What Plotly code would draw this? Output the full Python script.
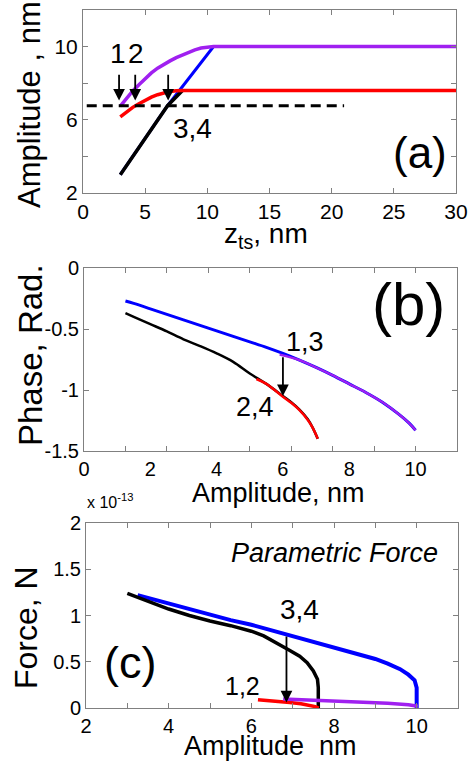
import plotly.graph_objects as go

W, H = 468, 762
FONT = "Liberation Sans"
PURPLE = "#A020F0"
RED = "#FF0000"
BLUE = "#0000FF"
BLACK = "#000000"
AXC = "#808080"

# ---------------- Panel (a): Amplitude vs z_ts ----------------
a_purple_x = [3, 3.5, 4, 4.5, 5, 5.5, 6, 6.5, 7, 7.5, 8, 8.5, 9, 9.5, 10, 10.5, 30]
a_purple_y = [6.75, 7.2, 7.58, 7.92, 8.25, 8.56, 8.82, 9.04, 9.22, 9.4, 9.55, 9.7, 9.82, 9.92, 9.98, 10, 10]
a_red_x = [3, 3.5, 4, 4.5, 5, 5.5, 6, 6.5, 7, 7.5, 8, 30]
a_red_y = [6.16, 6.45, 6.68, 6.88, 7.07, 7.24, 7.37, 7.48, 7.55, 7.59, 7.6, 7.6]
a_blue_x = [3, 6.8, 10.5, 30]
a_blue_y = [3, 6.77, 10, 10]
a_black_x = [3, 6.8, 8.0]
a_black_y = [3, 6.77, 7.6]
a_dash_x = [0.3, 21]
a_dash_y = [6.77, 6.77]

# ---------------- Panel (b): Phase vs Amplitude ----------------
b_blue_x = [1.25, 1.5, 2, 2.5, 3, 3.5, 4, 4.5, 5, 5.5, 6, 6.5, 7, 7.5, 8, 8.5, 9, 9.5, 9.8, 10]
b_blue_y = [-0.27, -0.29, -0.335, -0.38, -0.425, -0.47, -0.515, -0.56, -0.605, -0.65, -0.70,
            -0.755, -0.815, -0.88, -0.95, -1.02, -1.10, -1.20, -1.27, -1.33]
b_purple_x = [5.9, 6.5, 7, 7.5, 8, 8.5, 9, 9.5, 9.8, 10]
b_purple_y = [-0.71, -0.755, -0.815, -0.88, -0.95, -1.02, -1.10, -1.20, -1.27, -1.33]
b_black_x = [1.25, 1.5, 2, 2.5, 3, 3.5, 4, 4.5, 5, 5.5, 6, 6.25, 6.5, 6.75, 6.9, 7.05]
b_black_y = [-0.37, -0.40, -0.46, -0.52, -0.585, -0.64, -0.70, -0.77, -0.865, -0.95, -1.05,
             -1.10, -1.16, -1.24, -1.31, -1.40]
b_red_x = [5.2, 5.5, 6, 6.25, 6.5, 6.75, 6.9, 7.05]
b_red_y = [-0.91, -0.95, -1.055, -1.105, -1.165, -1.245, -1.31, -1.40]

# ---------------- Panel (c): Force vs Amplitude (x 1e-13 N) ----------------
c_blue_x = [3.25, 3.5, 4, 4.5, 5, 5.5, 6, 6.5, 7, 7.5, 8, 8.5, 9, 9.3, 9.6, 9.8, 9.95, 10.0, 10.0]
c_blue_y = [1.22, 1.19, 1.13, 1.06, 1.00, 0.95, 0.90, 0.84, 0.78, 0.72, 0.66, 0.60, 0.53,
            0.48, 0.42, 0.36, 0.30, 0.22, 0.0]
c_black_x = [3, 3.5, 4, 4.5, 5, 5.5, 6, 6.3, 6.6, 6.9, 7.17, 7.35, 7.5, 7.6, 7.62, 7.62]
c_black_y = [1.24, 1.15, 1.07, 1.0, 0.94, 0.89, 0.83, 0.78, 0.70, 0.63, 0.56, 0.49, 0.40,
             0.31, 0.22, 0.0]
c_red_x = [6.16, 6.5, 6.93, 7.2, 7.41, 7.55, 7.63]
c_red_y = [0.09, 0.08, 0.06, 0.045, 0.03, 0.015, 0.0]
c_purple_x = [6.77, 7.5, 8.38, 9.3, 9.8, 10.03]
c_purple_y = [0.097, 0.085, 0.07, 0.05, 0.035, 0.02]

fig = go.Figure()

def line(x, y, color, width, xa, ya, dash=None, shape="linear"):
    fig.add_trace(go.Scatter(x=x, y=y, mode="lines", xaxis=xa, yaxis=ya,
                             line=dict(color=color, width=width, dash=dash, shape=shape),
                             showlegend=False, hoverinfo="skip"))

# (a)
line(a_blue_x, a_blue_y, BLUE, 3, "x", "y")
line(a_purple_x, a_purple_y, PURPLE, 3.5, "x", "y")
line(a_black_x, a_black_y, BLACK, 3.5, "x", "y")
line(a_red_x, a_red_y, RED, 3.5, "x", "y")
line(a_dash_x, a_dash_y, BLACK, 3, "x", "y", dash="10px,6px")
# (b)
line(b_blue_x, b_blue_y, BLUE, 3, "x2", "y2", shape="spline")
line(b_purple_x, b_purple_y, PURPLE, 2.2, "x2", "y2", shape="spline")
line(b_black_x, b_black_y, BLACK, 2.5, "x2", "y2", shape="spline")
line(b_red_x, b_red_y, RED, 2.5, "x2", "y2", shape="spline")
# (c)
line(c_blue_x, c_blue_y, BLUE, 4, "x3", "y3")
line(c_black_x, c_black_y, BLACK, 3.5, "x3", "y3")
line(c_red_x, c_red_y, RED, 3.5, "x3", "y3")
line(c_purple_x, c_purple_y, PURPLE, 3.5, "x3", "y3")

def px2x(px):
    return px / W

def py2y(py):
    return 1 - py / H

base = dict(showline=True, linecolor=AXC, linewidth=1, mirror="ticks", ticks="inside",
            ticklen=5, tickcolor=AXC, showgrid=False, zeroline=False, automargin=False,
            tickfont=dict(family=FONT, size=20, color="black"))

layout = dict(
    template="none",
    width=W, height=H, margin=dict(l=0, r=0, t=0, b=0, pad=0, autoexpand=False),
    paper_bgcolor="white", plot_bgcolor="white",
    font=dict(family=FONT, color="black"),
    xaxis=dict(base, domain=[px2x(83), px2x(456)], range=[0, 30],
               tickvals=[0, 5, 10, 15, 20, 25, 30], anchor="y",
               tickfont=dict(family=FONT, size=21, color="black")),
    yaxis=dict(base, domain=[py2y(193), py2y(10)], range=[2, 12],
               tickvals=[2, 4, 6, 8, 10, 12], ticktext=["2", "", "6", "", "10", ""], anchor="x",
               tickfont=dict(family=FONT, size=21, color="black")),
    xaxis2=dict(base, domain=[px2x(84), px2x(457)], range=[0, 11.25],
                tickvals=[0, 2, 4, 6, 8, 10], ticks="", anchor="y2",
                minor=dict(tickvals=[1.25 * k for k in range(1, 9)], ticks="inside",
                           ticklen=5, tickcolor=AXC)),
    yaxis2=dict(base, domain=[py2y(451), py2y(268)], range=[-1.5, 0],
                tickvals=[-1.5, -1, -0.5, 0], ticktext=["-1.5", "-1", "-0.5", "0"], anchor="x2"),
    xaxis3=dict(base, domain=[px2x(86), px2x(458)], range=[2, 11],
                tickvals=list(range(2, 12)),
                ticktext=["2", "", "4", "", "6", "", "8", "", "10", ""], anchor="y3"),
    yaxis3=dict(base, domain=[py2y(708), py2y(523)], range=[0, 2],
                tickvals=[0, 0.5, 1, 1.5, 2], ticktext=["0", "0.5", "1", "1.5", "2"], anchor="x3"),
)
fig.update_layout(**layout)

ann = []

def ptext(text, x, y, size, angle=0, italic=False):
    ann.append(dict(text=text, x=px2x(x), y=py2y(y), xref="paper", yref="paper",
                    showarrow=False, textangle=angle, xanchor="center", yanchor="middle",
                    font=dict(family=FONT, size=size, color="black",
                              style="italic" if italic else "normal")))

def dtext(text, x, y, xa, ya, size, italic=False):
    ann.append(dict(text=text, x=x, y=y, xref=xa, yref=ya, showarrow=False,
                    xanchor="center", yanchor="middle",
                    font=dict(family=FONT, size=size, color="black",
                              style="italic" if italic else "normal")))

def arrow(x, y0, y1, xa, ya):
    ann.append(dict(x=x, y=y1, ax=x, ay=y0, xref=xa, yref=ya, axref=xa, ayref=ya,
                    text="", showarrow=True, arrowhead=2, arrowsize=1.3,
                    arrowwidth=1.8, arrowcolor="black"))

# axis titles
ptext("Amplitude , nm", 30, 105, 31, angle=-90)
ptext("z<sub>ts</sub>, nm", 266, 236, 28)
ptext("Phase, Rad.", 30, 355, 33, angle=-90)
ptext("Amplitude, nm", 278, 493, 27)
ptext("Force, N", 26, 628, 32, angle=-90)
ptext("Amplitude\u00a0 nm", 270, 746, 27)
ann.append(dict(text="x 10<sup>-13</sup>", x=px2x(85), y=py2y(513), xref="paper", yref="paper",
                showarrow=False, xanchor="left", yanchor="bottom",
                font=dict(family=FONT, size=16, color="black")))

# panel (a) labels and arrows
dtext("(a)", 27.1, 4.2, "x", "y", 44)
dtext("1", 2.8, 9.6, "x", "y", 28)
dtext("2", 4.3, 9.6, "x", "y", 28)
dtext("3,4", 8.8, 5.55, "x", "y", 28)
arrow(2.9, 8.55, 7.05, "x", "y")
arrow(4.2, 8.55, 7.05, "x", "y")
arrow(6.85, 8.55, 7.05, "x", "y")

# panel (b)
dtext("(b)", 9.8, -0.3, "x2", "y2", 60)
dtext("1,3", 6.66, -0.61, "x2", "y2", 27)
dtext("2,4", 5.15, -1.14, "x2", "y2", 27)
arrow(6.0, -0.72, -1.05, "x2", "y2")

# panel (c)
dtext("(c)", 3.06, 0.49, "x3", "y3", 45)
dtext("Parametric Force", 8.0, 1.68, "x3", "y3", 27, italic=True)
dtext("3,4", 7.17, 1.06, "x3", "y3", 28)
dtext("1,2", 5.78, 0.24, "x3", "y3", 25)
arrow(6.85, 0.79, 0.06, "x3", "y3")

fig.update_layout(annotations=ann)
fig.write_html("out.html", config={"displayModeBar": False},
               post_script="document.body.style.margin='0';document.body.style.padding='0';")
